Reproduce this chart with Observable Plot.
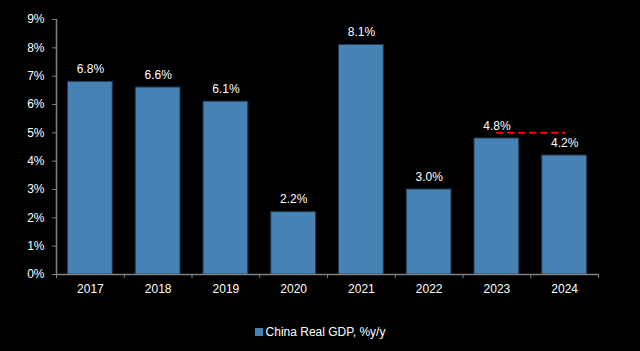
<!DOCTYPE html>
<html>
<head>
<meta charset="utf-8">
<script src="https://cdn.jsdelivr.net/npm/d3@7"></script>
<script src="https://cdn.jsdelivr.net/npm/@observablehq/plot@0.6"></script>
<style>
  html, body { margin: 0; padding: 0; background: #000; }
  body { width: 640px; height: 351px; overflow: hidden; font-family: "Liberation Sans", Arial, sans-serif; }
  #legend { display: flex; justify-content: center; align-items: center; color: #fff; font-size: 12px; margin-top: 20px; }
  #legend .sw { width: 8px; height: 8px; background: #4682b4; margin-right: 3px; }
</style>
</head>
<body>
<div id="chart"></div>
<div id="legend"><span class="sw"></span><span>China Real GDP, %y/y</span></div>
<script>
const years = [2017, 2018, 2019, 2020, 2021, 2022, 2023, 2024];
const gdp = [6.8, 6.6, 6.1, 2.2, 8.1, 3.0, 4.8, 4.2];
const targetYears = [2023, 2024];
const targetValues = [5, 5];
const yTicks = [0, 1, 2, 3, 4, 5, 6, 7, 8, 9];

const data = years.map((y, i) => ({year: y, value: gdp[i]}));
const target = targetYears.map((y, i) => ({year: y, value: targetValues[i]}));
const boundaries = years.map(y => y - 0.5).concat([years[years.length - 1] + 0.5]);

const grey = "#808080";
const chart = Plot.plot({
  width: 640,
  height: 305,
  marginTop: 19,
  marginBottom: 31,
  marginLeft: 56,
  marginRight: 42,
  style: {background: "#000", color: "#fff", fontFamily: "'Liberation Sans', Arial, sans-serif", fontSize: "12px"},
  x: {domain: [boundaries[0], boundaries[boundaries.length - 1]], label: null},
  y: {domain: [0, 9], label: null},
  marks: [
    Plot.rectY(data, {x1: d => d.year - 0.5, x2: d => d.year + 0.5, y: "value", fill: "#4682b4", stroke: "#1f3a52", strokeWidth: 1, insetLeft: 11.5, insetRight: 11.5}),
    Plot.ruleY([0], {stroke: grey, strokeWidth: 1.5}),
    Plot.ruleX([boundaries[0]], {y1: 0, y2: 9, stroke: grey, strokeWidth: 1.5}),
    Plot.axisY({ticks: yTicks, tickFormat: d => d + "%", tickSize: 4, tickPadding: 8, stroke: grey, fill: "#fff", fontSize: 12, label: null}),
    Plot.axisX({ticks: boundaries, tickSize: 4, tickFormat: () => "", stroke: grey, label: null}),
    Plot.axisX({ticks: years, tickSize: 0, tickPadding: 10, tickFormat: d => String(d), fill: "#fff", fontSize: 12, label: null}),
    Plot.lineY(target, {x: "year", y: "value", stroke: "#ff0000", strokeWidth: 2, strokeDasharray: "6,5"}),
    Plot.text(data, {x: "year", y: "value", text: d => d.value.toFixed(1) + "%", lineAnchor: "bottom", dy: -9, fill: "#fff", fontSize: 12})
  ]
});
document.getElementById("chart").appendChild(chart);
</script>
</body>
</html>
